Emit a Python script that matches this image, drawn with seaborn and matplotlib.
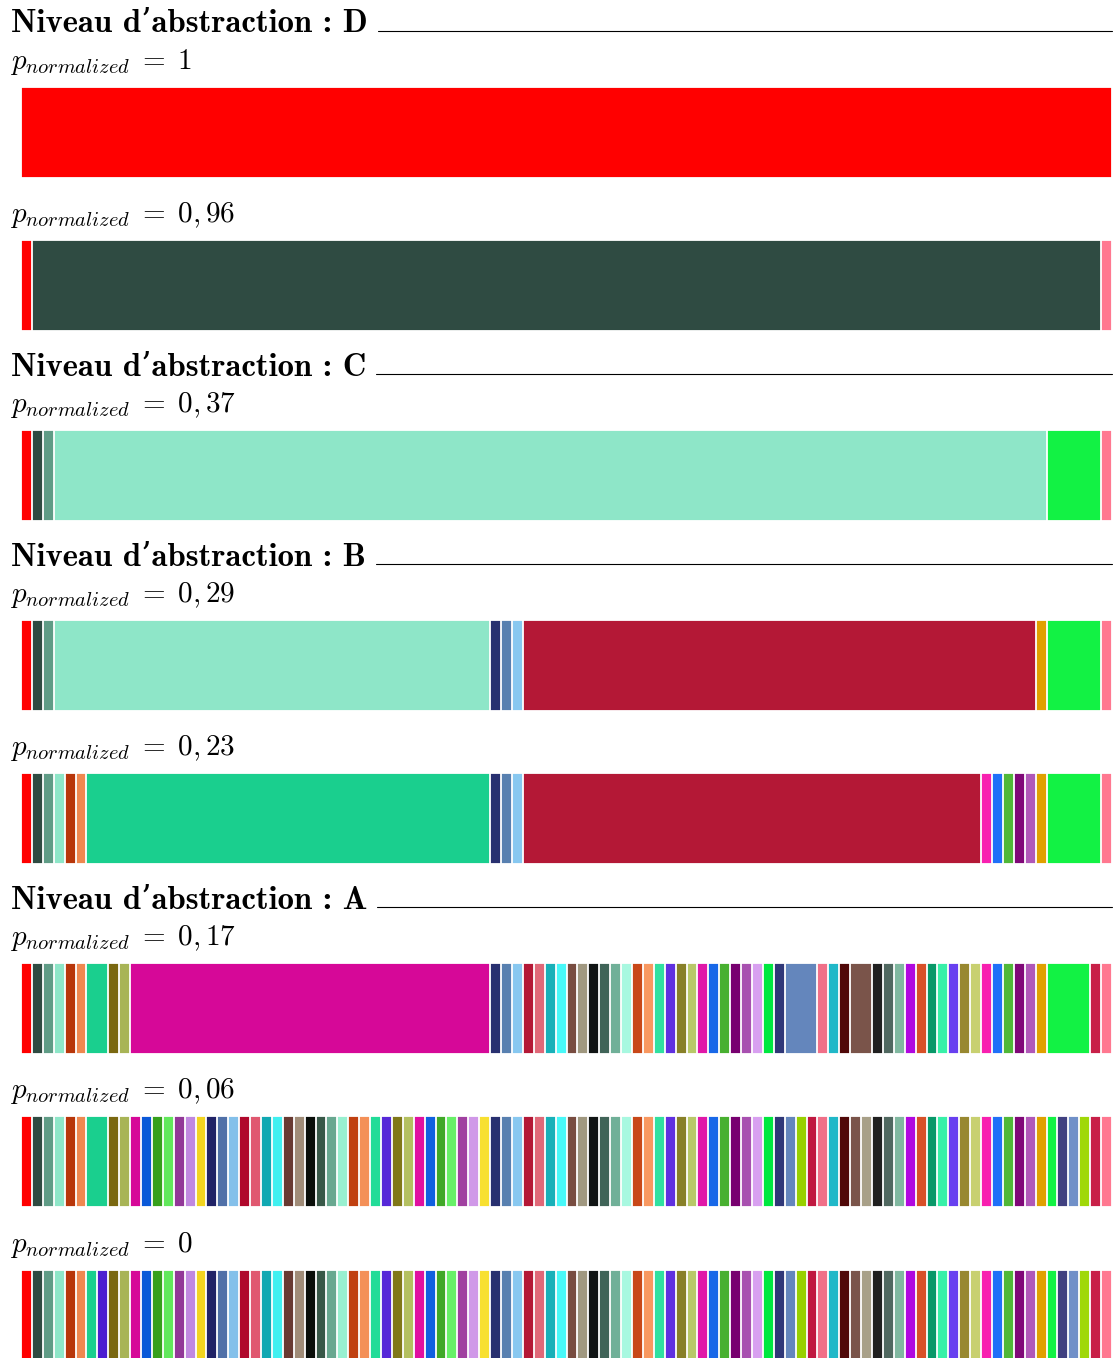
import numpy as np
import pandas as pd
import matplotlib
matplotlib.use("Agg")
import matplotlib.pyplot as plt
from matplotlib.lines import Line2D
import seaborn as sns

# ---------------- data ----------------
# colour of each of the 100 elementary items (left to right)
item_colors = [
    "#ff0000", "#2f4b42", "#5f9c86", "#8ee6c8", "#b8360a", "#ee8850", "#1acf8e", "#4c1ed0", "#7a6810", "#a8b456",
    "#d60898", "#0a58d8", "#36a01c", "#62e85c", "#923898", "#c088e0", "#f2d420", "#202266", "#5070a8", "#84c0ea",
    "#b0082c", "#e05870", "#10a8b2", "#40f0f0", "#683a32", "#a08c78", "#0a0e0a", "#385848", "#68a890", "#98f0d0",
    "#c04010", "#f49058", "#22dc98", "#5628d8", "#807818", "#b4c060", "#e010a0", "#1060e0", "#40a828", "#68f068",
    "#a040a0", "#d098e8", "#f8e030", "#283070", "#5880b0", "#88c8f0", "#b41836", "#e06878", "#18b0b8", "#48f8f8",
    "#784c40", "#a09880", "#101414", "#406458", "#70b098", "#a8f8e0", "#c84818", "#f89860", "#30e0a0", "#6030e0",
    "#888028", "#b8c868", "#e018a8", "#1868e8", "#48b030", "#780070", "#a850b0", "#d8a0f0", "#00e840", "#303878",
    "#6486bc", "#98d000", "#c01840", "#f07088", "#20b8c8", "#500808", "#7a544a", "#a8a088", "#202020", "#506860",
    "#80b8a0", "#b008e0", "#d85028", "#089868", "#38f0a8", "#6840f0", "#988830", "#c8d070", "#f820b0", "#2070f8",
    "#50b838", "#800878", "#b058b8", "#e0a000", "#12f244", "#404080", "#7090c8", "#a0d808", "#c82048", "#ff7890",
]

# group sizes (number of merged items) per row
row_labels = ["1", "0,96", "0,37", "0,29", "0,23", "0,17", "0,06", "0"]
groups_p1 = [100]
groups_p096 = [1, 98, 1]
groups_p037 = [1, 1, 1, 91, 5, 1]
groups_p029 = [1, 1, 1, 40, 1, 1, 1, 47, 1, 5, 1]
groups_p023 = [1, 1, 1, 1, 1, 1, 37, 1, 1, 1, 42, 1, 1, 1, 1, 1, 1, 5, 1]
groups_p017 = [1] * 6 + [2, 1, 1, 33] + [1] * 27 + [3, 1, 1, 1, 2] + [1] * 16 + [4, 1, 1]
groups_p006 = [1] * 6 + [2] + [1] * 92
groups_p0 = [1] * 100
row_groups = [groups_p1, groups_p096, groups_p037, groups_p029,
              groups_p023, groups_p017, groups_p006, groups_p0]

section_names = ["D", "C", "B", "A"]

# ---------------- layout (pixels) ----------------
W, H = 1113, 1358
fig = plt.figure(figsize=(W / 100, H / 100), dpi=100)
sns.set_theme(style="white")
plt.rcParams["mathtext.fontset"] = "cm"

bar_x0, bar_x1 = 21, 1112
bar_h = 91
bar_tops = [87, 240, 430, 620, 773, 963, 1116, 1270]
label_base = [69, 222, 412, 602, 755, 945, 1098, 1252]
header_base = [32, 376, 566, 909]
rule_y = [31, 374, 564, 907]


def fx(x):
    return x / W


def fy(y):
    return 1 - y / H


# ---------------- bars ----------------
for r, sizes in enumerate(row_groups):
    top = bar_tops[r]
    ax = fig.add_axes([fx(bar_x0), fy(top + bar_h), (bar_x1 - bar_x0) / W, bar_h / H])
    sizes = np.array(sizes)
    ends = np.cumsum(sizes)
    starts = ends - sizes
    ids = [f"g{i:03d}" for i in range(len(sizes))]
    pal = {g: item_colors[s] for g, s in zip(ids, starts)}
    df = pd.DataFrame({"row": ["r"] * len(sizes), "end": ends, "grp": ids})
    # overlay cumulative bars from longest to shortest -> stacked look
    sns.barplot(data=df, x="end", y="row", hue="grp", hue_order=ids[::-1],
                palette=pal, dodge=False, width=1.0, saturation=1,
                edgecolor="white", linewidth=1.3, errorbar=None,
                legend=False, orient="h", ax=ax)
    ax.set_xlim(0, 100)
    ax.set_ylim(0.5, -0.5)
    ax.axis("off")

# ---------------- labels ----------------
for r, lab in enumerate(row_labels):
    fig.text(fx(10), fy(label_base[r]), r"$p_{normalized}\;=\;" + lab + "$",
             fontsize=21, va="baseline", ha="left", color="black")

headers = []
for name, yb in zip(section_names, header_base):
    t = fig.text(fx(11), fy(yb), "Niveau d\u2019abstraction : " + name,
                 family=["cmb10", "DejaVu Serif"], fontsize=23.5,
                 va="baseline", ha="left", color="black")
    headers.append(t)

fig.canvas.draw()
renderer = fig.canvas.get_renderer()
for t, yl in zip(headers, rule_y):
    bb = t.get_window_extent(renderer)
    x_start = bb.x1 + 10
    fig.add_artist(Line2D([x_start / W, bar_x1 / W], [fy(yl), fy(yl)],
                          transform=fig.transFigure, color="black", lw=0.8))

fig.savefig("out.png", dpi=100)
